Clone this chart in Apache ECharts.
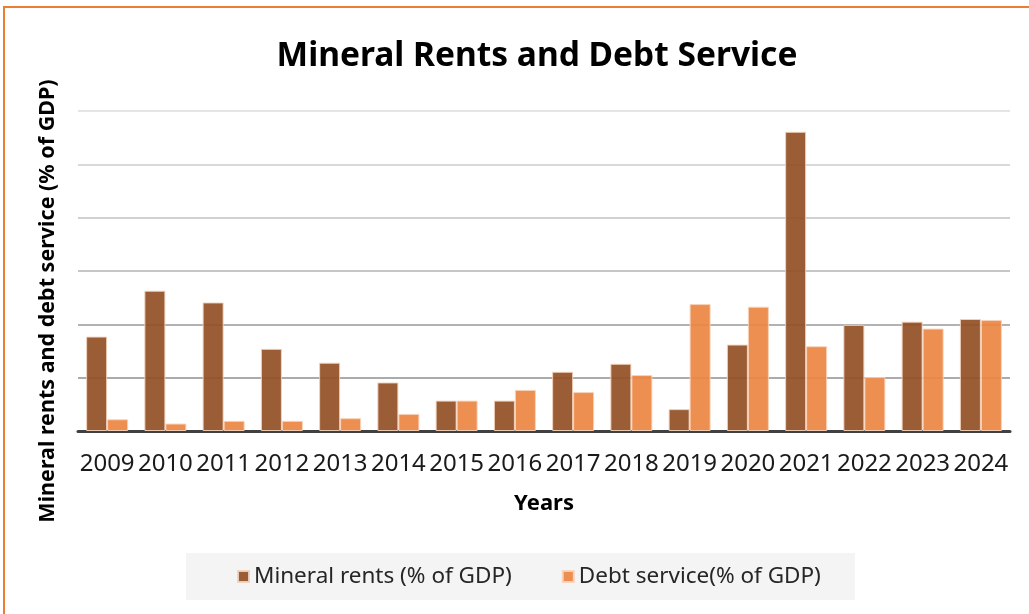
<!DOCTYPE html>
<html>
<head>
<meta charset="utf-8">
<script src="https://cdn.jsdelivr.net/npm/echarts@6/dist/echarts.min.js"></script>
<style>
  html, body { margin: 0; padding: 0; background: #ffffff; }
  #chart { width: 1029px; height: 614px; }
</style>
</head>
<body>
<div id="chart"></div>
<script>
// Years on the category axis
const years = ['2009', '2010', '2011', '2012', '2013', '2014', '2015', '2016',
               '2017', '2018', '2019', '2020', '2021', '2022', '2023', '2024'];

// Mineral rents (% of GDP)
const mineralRents = [1.77, 2.63, 2.41, 1.54, 1.28, 0.91, 0.57, 0.57,
                      1.11, 1.26, 0.41, 1.62, 5.61, 1.99, 2.05, 2.10];

// Debt service (% of GDP)
const debtService = [0.22, 0.14, 0.19, 0.19, 0.24, 0.32, 0.57, 0.77,
                     0.73, 1.05, 2.38, 2.33, 1.59, 1.01, 1.92, 2.08];

const seriesNames = ['Mineral rents (% of GDP)', 'Debt service(% of GDP)'];

const FONT = '"Noto Sans", "Open Sans", sans-serif';

const chart = echarts.init(document.getElementById('chart'), null, { renderer: 'canvas' });

chart.setOption({
  backgroundColor: '#ffffff',
  animation: false,
  title: {
    text: 'Mineral Rents and Debt Service',
    left: 532,
    textAlign: 'center',
    top: 34,
    textStyle: { fontFamily: FONT, fontSize: 33.5, fontWeight: 'bold', color: '#000000' }
  },
  legend: {
    data: seriesNames,
    left: 186,
    top: 553,
    padding: [12, 34, 12, 51],
    backgroundColor: '#f4f4f4',
    itemWidth: 11,
    itemHeight: 11,
    itemGap: 50,
    icon: 'rect',
    textStyle: { fontFamily: FONT, fontSize: 22.5, color: '#262626', padding: [0, 0, 0, 0] }
  },
  grid: { left: 78, right: 19, top: 111, bottom: 183 },
  xAxis: {
    type: 'category',
    data: years,
    name: 'Years',
    nameLocation: 'middle',
    nameGap: 62,
    nameTextStyle: { fontFamily: FONT, fontSize: 22, fontWeight: 'bold', color: '#000000' },
    axisLine: { lineStyle: { color: '#404040', width: 3 } },
    axisTick: { show: false },
    axisLabel: { fontFamily: FONT, fontSize: 24, color: '#1a1a1a', margin: 21, interval: 0 }
  },
  yAxis: {
    type: 'value',
    min: 0,
    max: 6,
    interval: 1,
    name: 'Mineral rents and debt service (% of GDP)',
    nameLocation: 'middle',
    nameGap: 19,
    nameTextStyle: {
      fontFamily: FONT, fontSize: 21.5, fontWeight: 'bold', color: '#000000',
      padding: [0, 60, 0, 0]
    },
    axisLine: { show: false },
    axisTick: { show: false },
    axisLabel: { show: false },
    splitLine: {
      lineStyle: {
        width: 1.5,
        color: ['#404040', '#8f8f8f', '#999999', '#b3b3b3', '#c2c2c2', '#cccccc', '#dcdcdc']
      }
    }
  },
  series: [
    {
      name: seriesNames[0],
      type: 'bar',
      data: mineralRents,
      barWidth: 21,
      barGap: '0%',
      itemStyle: { color: '#934f25', opacity: 0.92, borderColor: '#f1d2bd', borderWidth: 1 }
    },
    {
      name: seriesNames[1],
      type: 'bar',
      data: debtService,
      barWidth: 21,
      itemStyle: { color: '#ed8643', opacity: 0.92, borderColor: '#f7d3bb', borderWidth: 1 }
    }
  ],
  graphic: [
    // orange frame edges along the top and left
    { type: 'line', shape: { x1: 3, y1: 7, x2: 1029, y2: 7 }, style: { stroke: '#ed7d31', lineWidth: 2 } },
    { type: 'line', shape: { x1: 4, y1: 6, x2: 4, y2: 614 }, style: { stroke: '#ed7d31', lineWidth: 2 } }
  ]
});
</script>
</body>
</html>
